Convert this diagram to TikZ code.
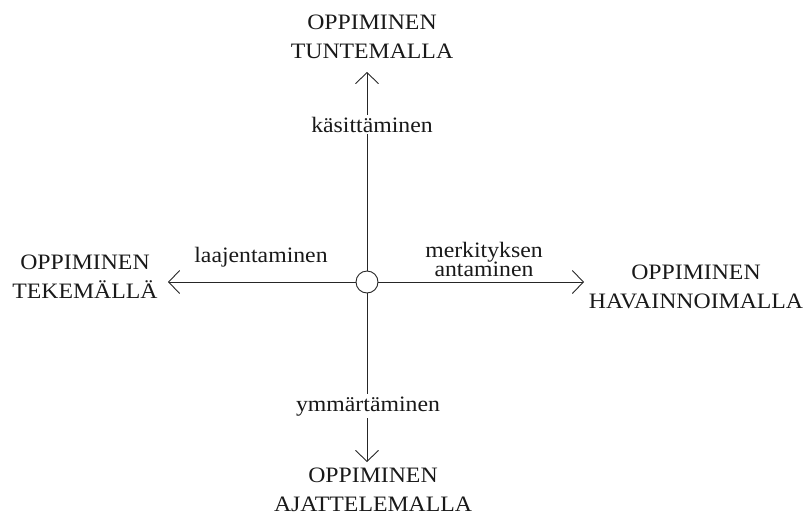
\documentclass[tikz,border=0pt]{standalone}
\usepackage{fontspec}
\setmainfont{Liberation Serif}[FakeStretch=1.08]
\usetikzlibrary{arrows.meta}
\newcommand\mylblfont{\fontsize{22}{19}\selectfont\lineskiplimit=-20pt\relax}
\begin{document}
\begin{tikzpicture}[x=1pt,y=-1pt,
  bigtext/.style={font=\fontsize{22}{28.5}\selectfont, align=center, inner sep=0pt, anchor=north, text=black!90},
  edgelabel/.style={font=\mylblfont, inner sep=2pt, anchor=base, text=black!90},
  cutlabel/.style={edgelabel, fill=white},
  conn/.style={line width=0.9pt, draw=black!85, -{Straight Barb[length=11pt,width=23pt,line width=0.9pt]}},
  hub/.style={circle, draw=black!85, line width=0.9pt, minimum size=22pt, inner sep=0pt}]
\useasboundingbox (0,0) rectangle (806,515);
\node[hub] (c) at (367,282) {};
\coordinate (tT) at (367,72);
\coordinate (tB) at (367,462);
\coordinate (tL) at (168,282);
\coordinate (tR) at (584,282);
\node[bigtext] (top) at (372,15) {OPPIMINEN\\TUNTEMALLA};
\node[bigtext] (left) at (85,255) {OPPIMINEN\\TEKEMÄLLÄ};
\node[bigtext] (right) at (696,265) {OPPIMINEN\\HAVAINNOIMALLA};
\node[bigtext] (bottom) at (373,468) {OPPIMINEN\\AJATTELEMALLA};
\draw[conn] (c) -- (tT);
\draw[conn] (c) -- (tB);
\draw[conn] (c) -- (tL);
\draw[conn] (c) -- (tR);
\node[cutlabel] (lt) at (372,132) {käsittäminen};
\node[cutlabel] (lb) at (368,411) {ymmärtäminen};
\node[edgelabel] (ll) at (261,262) {laajentaminen};
\node[edgelabel, align=center, anchor=north] (lr) at (484,240) {merkityksen\\antaminen};
\end{tikzpicture}
\end{document}
